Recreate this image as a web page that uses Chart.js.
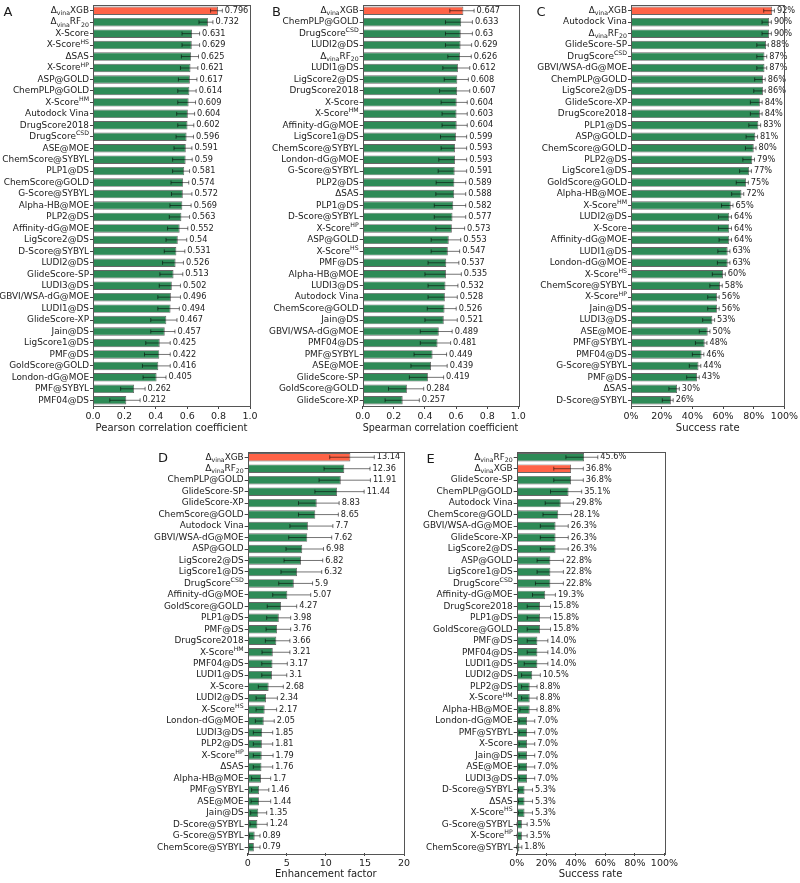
<!DOCTYPE html>
<html>
<head>
<meta charset="utf-8">
<script src="https://cdn.jsdelivr.net/npm/chart.js@4.4.1/dist/chart.umd.min.js"></script>
<style>
  html, body { margin: 0; padding: 0; background: #fff; }
  #wrap { position: relative; width: 800px; height: 883px; }
  canvas { position: absolute; }
</style>
</head>
<body>
<div id="wrap">
  <canvas id="cA" width="262" height="440" style="left:0px;top:0px"></canvas>
  <canvas id="cB" width="268" height="440" style="left:262px;top:0px"></canvas>
  <canvas id="cC" width="270" height="440" style="left:530px;top:0px"></canvas>
  <canvas id="cD" width="265" height="438" style="left:150px;top:445px"></canvas>
  <canvas id="cE" width="265" height="438" style="left:415px;top:445px"></canvas>
</div>
<script>
// labels use _{..} for subscript and ^{..} for superscript
const XGB = 'Δ_{vina}XGB';

// A - scoring power
const pearsonLabels = [XGB, 'Δ_{vina}RF_{20}', 'X-Score', 'X-Score^{HS}', 'ΔSAS', 'X-Score^{HP}', 'ASP@GOLD', 'ChemPLP@GOLD', 'X-Score^{HM}', 'Autodock Vina', 'DrugScore2018', 'DrugScore^{CSD}', 'ASE@MOE', 'ChemScore@SYBYL', 'PLP1@DS', 'ChemScore@GOLD', 'G-Score@SYBYL', 'Alpha-HB@MOE', 'PLP2@DS', 'Affinity-dG@MOE', 'LigScore2@DS', 'D-Score@SYBYL', 'LUDI2@DS', 'GlideScore-SP', 'LUDI3@DS', 'GBVI/WSA-dG@MOE', 'LUDI1@DS', 'GlideScore-XP', 'Jain@DS', 'LigScore1@DS', 'PMF@DS', 'GoldScore@GOLD', 'London-dG@MOE', 'PMF@SYBYL', 'PMF04@DS'];
const pearsonValues = [0.796, 0.732, 0.631, 0.629, 0.625, 0.621, 0.617, 0.614, 0.609, 0.604, 0.602, 0.596, 0.591, 0.59, 0.581, 0.574, 0.572, 0.569, 0.563, 0.552, 0.54, 0.531, 0.526, 0.513, 0.502, 0.496, 0.494, 0.467, 0.457, 0.425, 0.422, 0.416, 0.405, 0.262, 0.212];
const pearsonLow = [0.749, 0.675, 0.567, 0.567, 0.563, 0.557, 0.544, 0.54, 0.54, 0.533, 0.54, 0.529, 0.516, 0.507, 0.507, 0.497, 0.5, 0.49, 0.486, 0.475, 0.465, 0.454, 0.443, 0.426, 0.422, 0.413, 0.413, 0.368, 0.368, 0.336, 0.328, 0.315, 0.319, 0.176, 0.107];
const pearsonHigh = [0.824, 0.764, 0.679, 0.679, 0.672, 0.668, 0.662, 0.657, 0.653, 0.647, 0.642, 0.64, 0.63, 0.632, 0.615, 0.61, 0.63, 0.625, 0.615, 0.604, 0.597, 0.585, 0.576, 0.572, 0.557, 0.557, 0.55, 0.535, 0.522, 0.492, 0.492, 0.492, 0.465, 0.332, 0.3];

// B - ranking power
const spearmanLabels = [XGB, 'ChemPLP@GOLD', 'DrugScore^{CSD}', 'LUDI2@DS', 'Δ_{vina}RF_{20}', 'LUDI1@DS', 'LigScore2@DS', 'DrugScore2018', 'X-Score', 'X-Score^{HM}', 'Affinity-dG@MOE', 'LigScore1@DS', 'ChemScore@SYBYL', 'London-dG@MOE', 'G-Score@SYBYL', 'PLP2@DS', 'ΔSAS', 'PLP1@DS', 'D-Score@SYBYL', 'X-Score^{HP}', 'ASP@GOLD', 'X-Score^{HS}', 'PMF@DS', 'Alpha-HB@MOE', 'LUDI3@DS', 'Autodock Vina', 'ChemScore@GOLD', 'Jain@DS', 'GBVI/WSA-dG@MOE', 'PMF04@DS', 'PMF@SYBYL', 'ASE@MOE', 'GlideScore-SP', 'GoldScore@GOLD', 'GlideScore-XP'];
const spearmanValues = [0.647, 0.633, 0.63, 0.629, 0.626, 0.612, 0.608, 0.607, 0.604, 0.603, 0.604, 0.599, 0.593, 0.593, 0.591, 0.589, 0.588, 0.582, 0.577, 0.573, 0.553, 0.547, 0.537, 0.535, 0.532, 0.528, 0.526, 0.521, 0.489, 0.481, 0.449, 0.439, 0.419, 0.284, 0.257];
const spearmanLow = [0.56, 0.532, 0.532, 0.532, 0.547, 0.515, 0.524, 0.494, 0.504, 0.51, 0.51, 0.5, 0.504, 0.489, 0.485, 0.472, 0.47, 0.46, 0.46, 0.47, 0.44, 0.44, 0.42, 0.4, 0.42, 0.42, 0.415, 0.4, 0.37, 0.37, 0.33, 0.31, 0.3, 0.166, 0.144];
const spearmanHigh = [0.716, 0.705, 0.705, 0.7, 0.698, 0.688, 0.679, 0.688, 0.672, 0.672, 0.672, 0.668, 0.668, 0.668, 0.668, 0.662, 0.662, 0.662, 0.662, 0.655, 0.63, 0.623, 0.618, 0.634, 0.612, 0.608, 0.601, 0.608, 0.575, 0.565, 0.539, 0.543, 0.52, 0.392, 0.364];

// C - docking power
const dockingLabels = [XGB, 'Autodock Vina', 'Δ_{vina}RF_{20}', 'GlideScore-SP', 'DrugScore^{CSD}', 'GBVI/WSA-dG@MOE', 'ChemPLP@GOLD', 'LigScore2@DS', 'GlideScore-XP', 'DrugScore2018', 'PLP1@DS', 'ASP@GOLD', 'ChemScore@GOLD', 'PLP2@DS', 'LigScore1@DS', 'GoldScore@GOLD', 'Alpha-HB@MOE', 'X-Score^{HM}', 'LUDI2@DS', 'X-Score', 'Affinity-dG@MOE', 'LUDI1@DS', 'London-dG@MOE', 'X-Score^{HS}', 'ChemScore@SYBYL', 'X-Score^{HP}', 'Jain@DS', 'LUDI3@DS', 'ASE@MOE', 'PMF@SYBYL', 'PMF04@DS', 'G-Score@SYBYL', 'PMF@DS', 'ΔSAS', 'D-Score@SYBYL'];
const dockingValues = [92, 90, 90, 88, 87, 87, 86, 86, 84, 84, 83, 81, 80, 79, 77, 75, 72, 65, 64, 64, 64, 63, 63, 60, 58, 56, 56, 53, 50, 48, 46, 44, 43, 30, 26];
const dockingLow = [86.5, 85.4, 85.4, 82, 82, 82, 80.6, 80, 77.8, 77.8, 76.8, 75, 74.6, 72.9, 70.8, 68.6, 65.6, 59, 57, 57, 57.4, 56.6, 56.3, 53, 51.4, 50, 50, 46.7, 44.5, 42, 40, 38, 36.3, 24.7, 20.4];
const dockingHigh = [93.5, 91.5, 91.5, 89.5, 88.5, 88.5, 87.5, 87.5, 85.5, 85.5, 84.5, 82.5, 81.5, 80.5, 78.5, 76.5, 73.5, 66.5, 65.5, 65.5, 65.5, 64.5, 64.5, 61.5, 59.5, 57.5, 57.5, 54.5, 51.5, 49.5, 47.5, 45.5, 44.5, 31.5, 27.5];

// D - screening power, enhancement factor
const efLabels = [XGB, 'Δ_{vina}RF_{20}', 'ChemPLP@GOLD', 'GlideScore-SP', 'GlideScore-XP', 'ChemScore@GOLD', 'Autodock Vina', 'GBVI/WSA-dG@MOE', 'ASP@GOLD', 'LigScore2@DS', 'LigScore1@DS', 'DrugScore^{CSD}', 'Affinity-dG@MOE', 'GoldScore@GOLD', 'PLP1@DS', 'PMF@DS', 'DrugScore2018', 'X-Score^{HM}', 'PMF04@DS', 'LUDI1@DS', 'X-Score', 'LUDI2@DS', 'X-Score^{HS}', 'London-dG@MOE', 'LUDI3@DS', 'PLP2@DS', 'X-Score^{HP}', 'ΔSAS', 'Alpha-HB@MOE', 'PMF@SYBYL', 'ASE@MOE', 'Jain@DS', 'D-Score@SYBYL', 'G-Score@SYBYL', 'ChemScore@SYBYL'];
const efValues = [13.14, 12.36, 11.91, 11.44, 8.83, 8.65, 7.7, 7.62, 6.98, 6.82, 6.32, 5.9, 5.07, 4.27, 3.98, 3.76, 3.66, 3.21, 3.17, 3.1, 2.68, 2.34, 2.17, 2.05, 1.85, 1.81, 1.79, 1.76, 1.7, 1.46, 1.44, 1.35, 1.24, 0.89, 0.79];
const efLow = [10.5, 9.77, 9.13, 8.6, 6.5, 6.5, 5.4, 5.25, 4.9, 4.65, 4.26, 3.97, 3.2, 2.5, 2.43, 2.35, 2.26, 1.83, 1.8, 1.8, 1.36, 1.07, 1.07, 0.98, 0.72, 0.72, 0.72, 0.72, 0.5, 0.5, 0.43, 0.38, 0.3, 0.2, 0.13];
const efHigh = [16.2, 15.65, 15.7, 14.9, 11.7, 11.6, 10.9, 10.75, 9.7, 9.6, 9.47, 8.3, 8.06, 6.27, 5.5, 5.5, 5.4, 5.4, 5.07, 5.0, 4.56, 3.8, 3.7, 3.4, 3.2, 3.2, 3.25, 3.2, 2.94, 2.7, 2.94, 2.43, 2.5, 1.58, 1.58];

// E - screening power, success rate
const screenLabels = ['Δ_{vina}RF_{20}', XGB, 'GlideScore-SP', 'ChemPLP@GOLD', 'Autodock Vina', 'ChemScore@GOLD', 'GBVI/WSA-dG@MOE', 'GlideScore-XP', 'LigScore2@DS', 'ASP@GOLD', 'LigScore1@DS', 'DrugScore^{CSD}', 'Affinity-dG@MOE', 'DrugScore2018', 'PLP1@DS', 'GoldScore@GOLD', 'PMF@DS', 'PMF04@DS', 'LUDI1@DS', 'LUDI2@DS', 'PLP2@DS', 'X-Score^{HM}', 'Alpha-HB@MOE', 'London-dG@MOE', 'PMF@SYBYL', 'X-Score', 'Jain@DS', 'ASE@MOE', 'LUDI3@DS', 'D-Score@SYBYL', 'ΔSAS', 'X-Score^{HS}', 'G-Score@SYBYL', 'X-Score^{HP}', 'ChemScore@SYBYL'];
const screenValues = [45.6, 36.8, 36.8, 35.1, 29.8, 28.1, 26.3, 26.3, 26.3, 22.8, 22.8, 22.8, 19.3, 15.8, 15.8, 15.8, 14.0, 14.0, 14.0, 10.5, 8.8, 8.8, 8.8, 7.0, 7.0, 7.0, 7.0, 7.0, 7.0, 5.3, 5.3, 5.3, 3.5, 3.5, 1.8];
const screenLow = [33.3, 25.1, 25.1, 22.9, 19.3, 17.8, 16, 16, 16, 13.8, 13.8, 12.7, 10.7, 7.1, 7.1, 7.1, 7.1, 7.1, 5.1, 3.3, 3.3, 3.3, 2.2, 1.6, 1.6, 1.6, 1.6, 1.6, 1.6, 1.1, 1.1, 1.1, 0.2, 0.2, 0];
const screenHigh = [54.9, 45.1, 45.1, 44, 38.4, 37, 34.9, 34.9, 34.9, 31.6, 31.6, 31.6, 26.2, 22.9, 22.9, 22.9, 21.1, 21.1, 21.1, 16, 13.8, 13.8, 13.8, 12.2, 12.2, 12.2, 12.2, 12.2, 12.2, 10.7, 10.7, 10.7, 7.1, 7.1, 3.5];

const FONT = '"DejaVu Sans", sans-serif';
const GREEN = '#2e8b57';
const RED = '#ff6347';

function parseLabel(s) {
  const parts = [];
  const re = /([_^])\{([^}]*)\}/g;
  let last = 0, m;
  while ((m = re.exec(s))) {
    if (m.index > last) parts.push({ t: s.slice(last, m.index), k: '' });
    parts.push({ t: m[2], k: m[1] });
    last = re.lastIndex;
  }
  if (last < s.length) parts.push({ t: s.slice(last), k: '' });
  return parts;
}

// draws label with sub/superscripts, right aligned at xr
function drawRich(ctx, s, xr, y, size) {
  const parts = parseLabel(s);
  let w = 0;
  parts.forEach(p => {
    ctx.font = (p.k ? size * 0.7 : size) + 'px ' + FONT;
    p.w = ctx.measureText(p.t).width;
    w += p.w;
  });
  let x = xr - w;
  parts.forEach(p => {
    ctx.font = (p.k ? size * 0.7 : size) + 'px ' + FONT;
    const dy = p.k === '_' ? 2.8 : (p.k === '^' ? -3 : 0);
    ctx.fillText(p.t, x, y + dy);
    x += p.w;
  });
}

function decor(p) {
  return {
    id: 'decor' + p.letter,
    afterDatasetsDraw(chart) {
      const { ctx, scales: { x, y } } = chart;
      ctx.save();
      ctx.strokeStyle = 'rgba(0,0,0,0.55)';
      ctx.lineWidth = 1;
      ctx.fillStyle = '#222';
      ctx.font = '8.2px ' + FONT;
      ctx.textBaseline = 'middle';
      ctx.textAlign = 'left';
      p.values.forEach((v, i) => {
        const yy = y.getPixelForValue(i);
        const x1 = x.getPixelForValue(p.low[i]);
        const x2 = x.getPixelForValue(p.high[i]);
        ctx.beginPath();
        ctx.moveTo(x1, yy); ctx.lineTo(x2, yy);
        ctx.moveTo(x1, yy - 2); ctx.lineTo(x1, yy + 2);
        ctx.moveTo(x2, yy - 2); ctx.lineTo(x2, yy + 2);
        ctx.stroke();
        ctx.fillText(p.fmt(v), x2 + 2.5, yy);
      });
      ctx.restore();
    },
    afterDraw(chart) {
      const { ctx, chartArea: a, scales: { y } } = chart;
      ctx.save();
      ctx.strokeStyle = '#555';
      ctx.lineWidth = 1;
      ctx.strokeRect(Math.round(a.left) + 0.5, Math.round(a.top) + 0.5,
        Math.round(a.right - a.left), Math.round(a.bottom - a.top));
      ctx.fillStyle = '#1a1a1a';
      ctx.textBaseline = 'middle';
      ctx.textAlign = 'left';
      p.labels.forEach((s, i) => {
        drawRich(ctx, s, a.left - 4, y.getPixelForValue(i), 8.9);
      });
      ctx.font = '13px ' + FONT;
      ctx.textBaseline = 'alphabetic';
      ctx.fillText(p.letter, p.lx, p.ly);
      ctx.restore();
    }
  };
}

function makePanel(p) {
  new Chart(document.getElementById(p.id), {
    type: 'bar',
    data: {
      labels: p.labels,
      datasets: [{
        data: p.values,
        backgroundColor: c => p.labels[c.dataIndex] === XGB ? RED : GREEN,
        borderColor: 'rgba(0,0,0,0.6)',
        borderWidth: 0.9,
        barPercentage: 0.74,
        categoryPercentage: 1.0
      }]
    },
    options: {
      indexAxis: 'y',
      responsive: false,
      animation: false,
      layout: { padding: { left: 0, top: p.padTop, right: p.padRight, bottom: 0 } },
      plugins: { legend: { display: false }, tooltip: { enabled: false } },
      scales: {
        y: {
          type: 'category',
          offset: true,
          grid: { display: true, drawOnChartArea: false, drawTicks: true, tickLength: 3, offset: false, color: '#444' },
          border: { display: false },
          ticks: { display: false, autoSkip: false },
          afterFit: s => { s.width = p.yWidth; }
        },
        x: {
          type: 'linear',
          min: 0,
          max: p.xMax,
          grid: { drawOnChartArea: false, drawTicks: true, tickLength: 3, color: '#444' },
          border: { display: false },
          ticks: {
            stepSize: p.xStep,
            autoSkip: false,
            maxRotation: 0,
            padding: 2,
            color: '#222',
            font: { family: FONT, size: 9.5 },
            callback: p.tickFmt
          },
          title: {
            display: true,
            text: p.title,
            color: '#222',
            font: { family: FONT, size: 10 },
            padding: { top: 0, bottom: p.titlePad }
          },
          afterFit: s => { s.height = p.xHeight; }
        }
      }
    },
    plugins: [decor(p)]
  });
}

const dec1 = v => v.toFixed(1);
const pct0 = v => v + '%';

makePanel({ id: 'cA', letter: 'A', lx: 3.5, ly: 16, labels: pearsonLabels, values: pearsonValues, low: pearsonLow, high: pearsonHigh,
  xMax: 1, xStep: 0.2, tickFmt: dec1, fmt: v => String(v), title: 'Pearson correlation coefficient',
  yWidth: 93, padTop: 5, padRight: 12, xHeight: 34, titlePad: 5.7 });
makePanel({ id: 'cB', letter: 'B', lx: 10, ly: 16, labels: spearmanLabels, values: spearmanValues, low: spearmanLow, high: spearmanHigh,
  xMax: 1, xStep: 0.2, tickFmt: dec1, fmt: v => String(v), title: 'Spearman correlation coefficient',
  yWidth: 100.7, padTop: 5, padRight: 11.7, xHeight: 34, titlePad: 5.7 });
makePanel({ id: 'cC', letter: 'C', lx: 6.5, ly: 16, labels: dockingLabels, values: dockingValues, low: dockingLow, high: dockingHigh,
  xMax: 100, xStep: 20, tickFmt: pct0, fmt: v => v + '%', title: 'Success rate',
  yWidth: 101, padTop: 5, padRight: 14, xHeight: 34, titlePad: 5.7 });
makePanel({ id: 'cD', letter: 'D', lx: 8, ly: 17, labels: efLabels, values: efValues, low: efLow, high: efHigh,
  xMax: 20, xStep: 5, tickFmt: v => String(v), fmt: v => String(v), title: 'Enhancement factor',
  yWidth: 97.7, padTop: 6.5, padRight: 11, xHeight: 30, titlePad: 2.7 });
makePanel({ id: 'cE', letter: 'E', lx: 11.5, ly: 17.5, labels: screenLabels, values: screenValues, low: screenLow, high: screenHigh,
  xMax: 100, xStep: 20, tickFmt: pct0, fmt: v => v.toFixed(1) + '%', title: 'Success rate',
  yWidth: 101.7, padTop: 6.5, padRight: 13.3, xHeight: 30, titlePad: 2.7 });
</script>
</body>
</html>
